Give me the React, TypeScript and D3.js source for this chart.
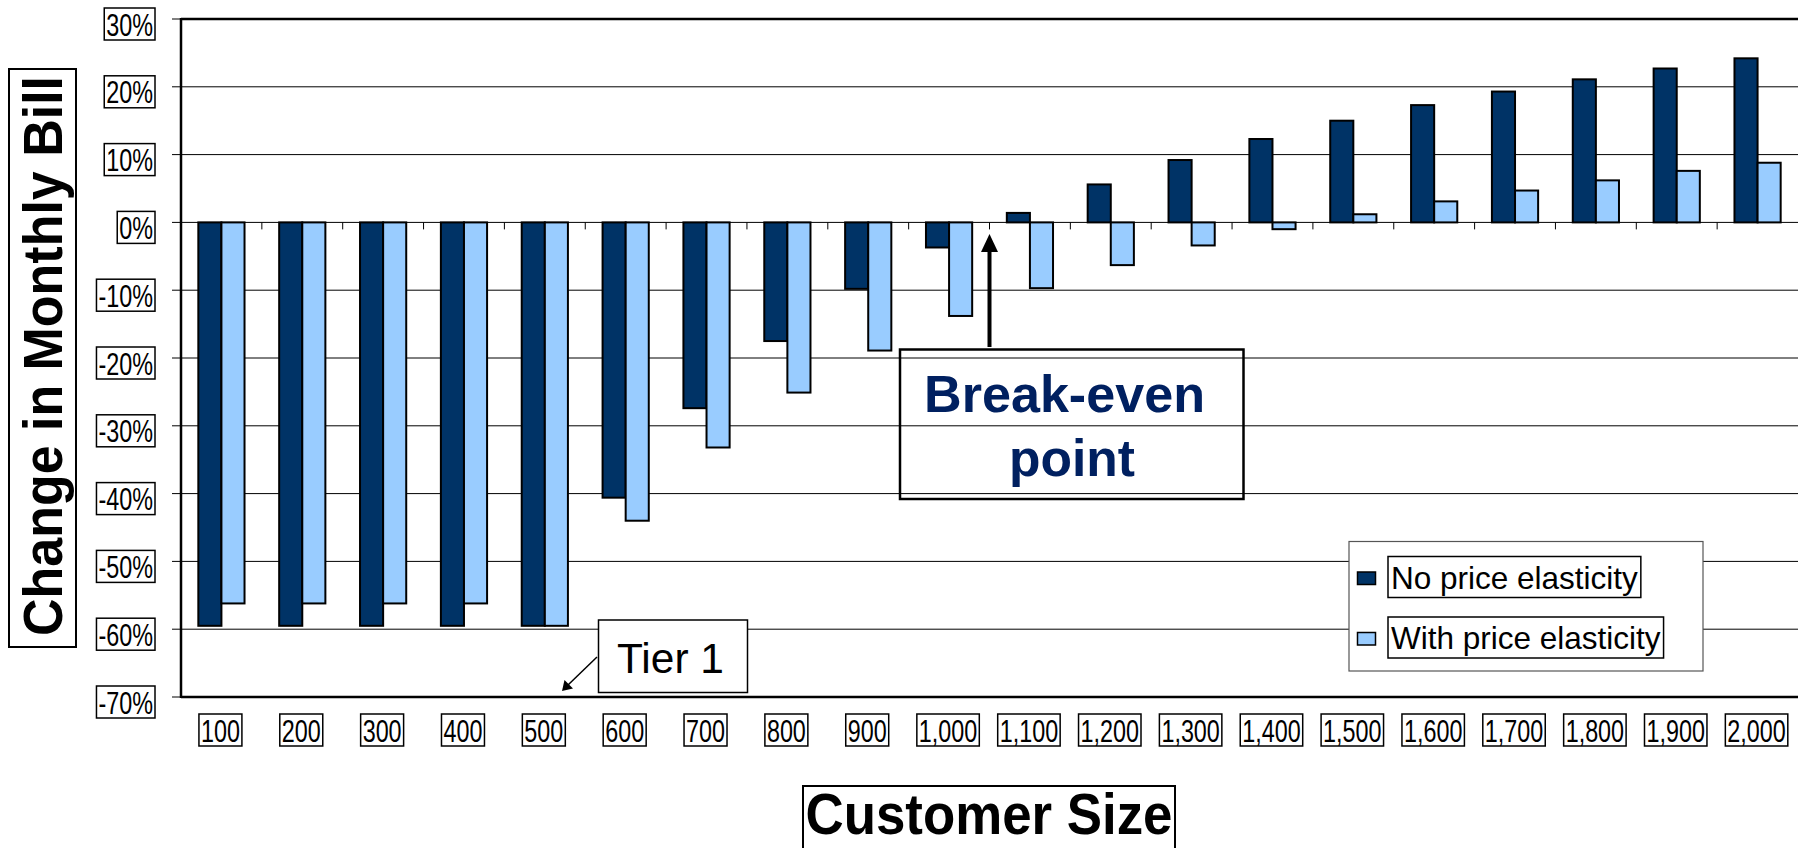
import React from "react";
import * as d3 from "d3";

const categories = ["100", "200", "300", "400", "500", "600", "700", "800", "900", "1,000", "1,100", "1,200", "1,300", "1,400", "1,500", "1,600", "1,700", "1,800", "1,900", "2,000"];
const seriesNames = ["No price elasticity", "With price elasticity"];
const noElasticity = [-59.5, -59.5, -59.5, -59.5, -59.5, -40.6, -27.4, -17.5, -9.8, -3.7, 1.4, 5.6, 9.2, 12.3, 15.0, 17.3, 19.3, 21.1, 22.7, 24.2];
const withElasticity = [-56.2, -56.2, -56.2, -56.2, -59.5, -44.0, -33.2, -25.1, -18.9, -13.8, -9.7, -6.3, -3.4, -1.0, 1.2, 3.1, 4.7, 6.2, 7.6, 8.8];
const yTicks = [30, 20, 10, 0, -10, -20, -30, -40, -50, -60, -70];
const seriesColors = ["#003366", "#99CCFF"];
const yTitle = "Change in Monthly Bill";
const xTitle = "Customer Size";
const breakEvenLines = ["Break-even", "point"];
const tierLabel = "Tier 1";

const FONT = "'Liberation Sans', Arial, Helvetica, sans-serif";
const W = 1798;
const H = 848;
const M = { left: 181, right: 1798, top: 19, bottom: 697 };

let ctx: CanvasRenderingContext2D | null = null;
function measure(text: string, font: string): number {
  if (!ctx) ctx = document.createElement("canvas").getContext("2d");
  if (!ctx) return text.length * 10;
  ctx.font = font;
  return ctx.measureText(text).width;
}

export default function App() {
  const x = d3.scaleBand<string>().domain(categories).range([M.left, M.right]).padding(0);
  const xs = d3.scaleBand<string>().domain(seriesNames).range([0, x.bandwidth()]).paddingInner(0).paddingOuter(0.75);
  const y = d3.scaleLinear().domain([-70, 30]).range([M.bottom, M.top]);
  const series = [noElasticity, withElasticity];

  const tickFontSize = 32;
  const tickSx = 0.73;
  const tickFont = `${tickFontSize}px ${FONT}`;

  const legendFontSize = 31.5;
  const legendFont = `${legendFontSize}px ${FONT}`;

  return (
    <svg width={W} height={H} style={{ position: "absolute", left: 0, top: 0, background: "#fff" }} fontFamily={FONT}>
      <rect x={0} y={0} width={W} height={H} fill="#fff" />
      {/* gridlines */}
      {yTicks.filter((t) => t !== -70 && t !== 30).map((t) => (
        <line key={"g" + t} x1={M.left} x2={M.right} y1={y(t)} y2={y(t)} stroke="#000" strokeWidth={1} />
      ))}
      {/* plot border top & bottom */}
      <line x1={M.left} x2={M.right} y1={y(30)} y2={y(30)} stroke="#000" strokeWidth={2.5} />
      <line x1={M.left} x2={M.right} y1={y(-70)} y2={y(-70)} stroke="#000" strokeWidth={2.5} />
      {/* bars */}
      {categories.map((c, i) => (
        <g key={"b" + c}>
          {series.map((vals, s) => {
            const v = vals[i];
            const x0 = (x(c) as number) + (xs(seriesNames[s]) as number);
            const y0 = y(Math.max(0, v));
            const h = Math.abs(y(v) - y(0));
            return (
              <rect key={s} x={x0} y={y0} width={xs.bandwidth()} height={h} fill={seriesColors[s]} stroke="#000" strokeWidth={2} />
            );
          })}
        </g>
      ))}
      {/* x-axis ticks at zero */}
      {categories.map((c) => (
        <line key={"xt" + c} x1={x(c) as number} x2={x(c) as number} y1={y(0)} y2={y(0) + 7} stroke="#000" strokeWidth={1} />
      ))}
      {/* y axis */}
      <line x1={M.left} x2={M.left} y1={M.top - 1} y2={M.bottom + 1} stroke="#000" strokeWidth={2.5} />
      {yTicks.map((t) => (
        <line key={"yt" + t} x1={M.left - 9} x2={M.left} y1={y(t)} y2={y(t)} stroke="#000" strokeWidth={1} />
      ))}
      {/* y tick labels */}
      {yTicks.map((t) => {
        const label = `${t}%`;
        const tw = measure(label, tickFont) * tickSx;
        const cy = y(t) + 5;
        const right = 155;
        return (
          <g key={"yl" + t}>
            <rect x={right - tw - 4} y={cy - 16} width={tw + 4} height={32} fill="#fff" stroke="#000" strokeWidth={1.5} />
            <text transform={`translate(${right - 2},${cy + 11.5}) scale(${tickSx},1)`} textAnchor="end" fontSize={tickFontSize} fill="#000">
              {label}
            </text>
          </g>
        );
      })}
      {/* x tick labels */}
      {categories.map((c) => {
        const tw = measure(c, tickFont) * tickSx;
        const cx = (x(c) as number) + x.bandwidth() / 2 - 1;
        return (
          <g key={"xl" + c}>
            <rect x={cx - tw / 2 - 2} y={714} width={tw + 4} height={32} fill="#fff" stroke="#000" strokeWidth={1.5} />
            <text transform={`translate(${cx},${741.5}) scale(${tickSx},1)`} textAnchor="middle" fontSize={tickFontSize} fill="#000">
              {c}
            </text>
          </g>
        );
      })}
      {/* y title */}
      <rect x={9} y={69} width={67} height={578} fill="#fff" stroke="#000" strokeWidth={2} />
      <text transform={`translate(62,356) rotate(-90)`} textAnchor="middle" fontSize={56} fontWeight="bold" fill="#000" textLength={560} lengthAdjust="spacingAndGlyphs">
        {yTitle}
      </text>
      {/* x title */}
      <rect x={803} y={786} width={372} height={80} fill="#fff" stroke="#000" strokeWidth={2} />
      <text x={989} y={834} textAnchor="middle" fontSize={58} fontWeight="bold" fill="#000" textLength={367} lengthAdjust="spacingAndGlyphs">
        {xTitle}
      </text>
      {/* Break-even annotation */}
      <rect x={900} y={349.5} width={343.5} height={149.5} fill="none" stroke="#000" strokeWidth={2.5} />
      <text x={924} y={411.5} fontSize={52} fontWeight="bold" fill="#002060" textLength={281} lengthAdjust="spacingAndGlyphs">
        {breakEvenLines[0]}
      </text>
      <text x={1009} y={476} fontSize={52} fontWeight="bold" fill="#002060" textLength={126} lengthAdjust="spacingAndGlyphs">
        {breakEvenLines[1]}
      </text>
      {(() => {
        const ax = x(categories[10]) as number;
        return (
          <g>
            <line x1={ax} x2={ax} y1={347} y2={248} stroke="#000" strokeWidth={4} />
            <path d={`M${ax},${234} L${ax - 8.5},${252} L${ax + 8.5},${252} Z`} fill="#000" />
          </g>
        );
      })()}
      {/* Tier 1 annotation */}
      <line x1={597} y1={657} x2={568} y2={685} stroke="#000" strokeWidth={1.5} />
      <path d="M562,691 L564.5,680 L573,688.5 Z" fill="#000" />
      <rect x={598.5} y={620} width={149} height={72.5} fill="#fff" stroke="#000" strokeWidth={1.5} />
      <text x={617} y={673} fontSize={43} fill="#000" textLength={107} lengthAdjust="spacingAndGlyphs">
        {tierLabel}
      </text>
      {/* legend */}
      <rect x={1349} y={541.5} width={354} height={129.5} fill="#fff" stroke="#555" strokeWidth={1.2} />
      {seriesNames.map((name, s) => {
        const baseY = s === 0 ? 588.5 : 649;
        const tw = measure(name, legendFont);
        return (
          <g key={"lg" + s}>
            <rect x={1357.5} y={baseY - 16.5} width={18} height={12.5} fill={seriesColors[s]} stroke="#000" strokeWidth={1.5} />
            <rect x={1388} y={baseY - 32} width={tw + 6} height={41} fill="#fff" stroke="#000" strokeWidth={1.5} />
            <text x={1391} y={baseY} fontSize={legendFontSize} fill="#000">
              {name}
            </text>
          </g>
        );
      })}
    </svg>
  );
}
